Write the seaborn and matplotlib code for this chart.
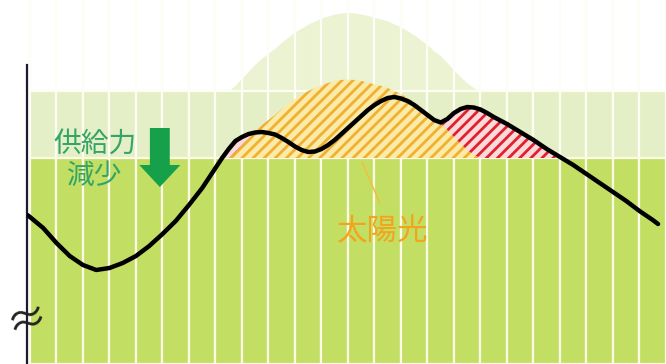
import numpy as np
import pandas as pd
import matplotlib
matplotlib.use("Agg")
import matplotlib.pyplot as plt
import seaborn as sns

sns.set_theme(style="white")
plt.rcParams['font.family'] = ['Noto Sans CJK JP', 'DejaVu Sans']
plt.rcParams['hatch.linewidth'] = 2.0

# hourly supply blocks (24 bars)
bar_hours = np.arange(24) + 0.5
supply_base = [20.6] * 24          # 供給力 after reduction
supply_band = [27.3] * 24          # original supply level

# time grid for the curves: half hours, quarter hours around midday
hours = ([-0.1] + list(np.arange(0, 6.5, 0.5)) + list(np.arange(6.5, 17.5, 0.25))
         + list(np.arange(17.5, 24, 0.5)) + [23.7])
demand = [14.9,
          # 0.0 - 6.0 (half hours)
          14.7, 13.6, 12.1, 10.8, 9.9, 9.4, 9.6, 10.1, 10.8, 11.8, 13.0, 14.3, 15.9,
          # 6.5 - 17.25 (quarter hours)
          17.6, 18.6, 19.6, 20.6, 21.5, 22.3, 22.7, 23.0, 23.15, 23.2, 23.1, 22.95,
          22.6, 22.2, 21.75, 21.4, 21.2, 21.25, 21.5, 21.9, 22.4, 23.0, 23.6, 24.2,
          24.8, 25.4, 25.9, 26.3, 26.6, 26.7, 26.55, 26.3, 25.9, 25.4, 24.9, 24.4,
          24.15, 24.5, 25.1, 25.5, 25.7, 25.65, 25.45, 25.1,
          # 17.5 - 23.5 (half hours)
          24.7, 24.0, 23.2, 22.4, 21.5, 20.7, 19.9, 19.0, 18.1, 17.2, 16.3, 15.3, 14.4,
          14.0]
solar = [0.0,
         0, 0, 0, 0, 0, 0, 0, 0, 0, 0, 0, 0, 0,
         0, 0, 0, 0, 0.0, 0.6, 1.3, 2.0, 2.7, 3.3, 3.8, 4.3,
         4.9, 5.4, 5.9, 6.3, 6.7, 7.0, 7.3, 7.5, 7.7, 7.8, 7.85, 7.8,
         7.7, 7.55, 7.35, 7.2, 7.0, 6.7, 6.4, 6.0, 5.6, 5.1, 4.6, 4.0,
         3.5, 2.8, 2.1, 1.4, 0.8, 0.3, 0.0, 0,
         0, 0, 0, 0, 0, 0, 0, 0, 0, 0, 0, 0, 0,
         0.0]

hours = np.array(hours)
demand = np.array(demand)
solar = np.array(solar)
base = supply_base[0]
band = supply_band[0]

fig = plt.figure(figsize=(6.66, 3.64), dpi=100)
ax = fig.add_axes([0.0405, 0.0, 0.9595, 1.0])

# pale solar bell sitting on top of the original supply band
ax.fill_between(hours, band, band + solar, where=solar > 0, interpolate=True,
                color='#ebf3d3', linewidth=0, zorder=0)

bars = pd.DataFrame({'hour': bar_hours, 'band': supply_band, 'base': supply_base})
sns.barplot(data=bars, x='hour', y='band', native_scale=True, width=1,
            color='#e5efc7', saturation=1, edgecolor='#fdfdf2', linewidth=1.6,
            errorbar=None, ax=ax)
sns.barplot(data=bars, x='hour', y='base', native_scale=True, width=1,
            color='#c3df63', saturation=1, edgecolor='#fafae6', linewidth=1.6,
            errorbar=None, ax=ax)
ax.vlines(np.arange(25), band, 36.4, color='#fdfdf5', linewidth=1.6, zorder=1.5)

# solar shifted down onto the reduced supply (hatched)
top = base + solar
ax.fill_between(hours, base, top, where=solar > 0, interpolate=True,
                facecolor='#fbeaa8', edgecolor='#f0b030', hatch='///',
                linewidth=0, zorder=2)
ax.fill_between(hours, top, demand, where=demand > top, interpolate=True,
                facecolor='#fbdada', edgecolor='#e0202e', hatch='///',
                linewidth=0, zorder=2)

# demand curve
sns.lineplot(x=hours, y=demand, color='black', linewidth=3.2, sort=False,
             estimator=None, ax=ax, zorder=3, solid_capstyle='round',
             solid_joinstyle='round')

# labels
ax.text(2.45, 20.4, '供給力\n減少', color='#34a566', fontsize=20,
        ha='center', va='center', linespacing=1.1, zorder=4)
ax.arrow(4.9, 23.6, 0, -3.7, width=0.75, head_width=1.55, head_length=2.2,
         length_includes_head=False, color='#17a04a', linewidth=0, zorder=4)
ax.plot([12.53, 13.2], [20.2, 16.1], color='#f2c040', linewidth=1.2, zorder=4)
ax.text(13.3, 13.2, '太陽光', color='#f3a41e', fontsize=22,
        ha='center', va='center', zorder=4)
ax.text(-0.08, 4.3, '≈', color='#222222', fontsize=30, rotation=15,
        ha='center', va='center', zorder=5, clip_on=False)

ax.set_xlim(-0.113, 24.0)
ax.set_ylim(0, 36.4)
ax.set_xticks([])
ax.set_yticks([])
ax.set_xlabel('')
ax.set_ylabel('')
for side in ['top', 'right', 'bottom']:
    ax.spines[side].set_visible(False)
ax.spines['left'].set_bounds(0, 29.9)
ax.spines['left'].set_color('#1a1a33')
ax.spines['left'].set_linewidth(1.6)
ax.set_facecolor('white')

fig.savefig('out.png', dpi=100)
plt.close(fig)
